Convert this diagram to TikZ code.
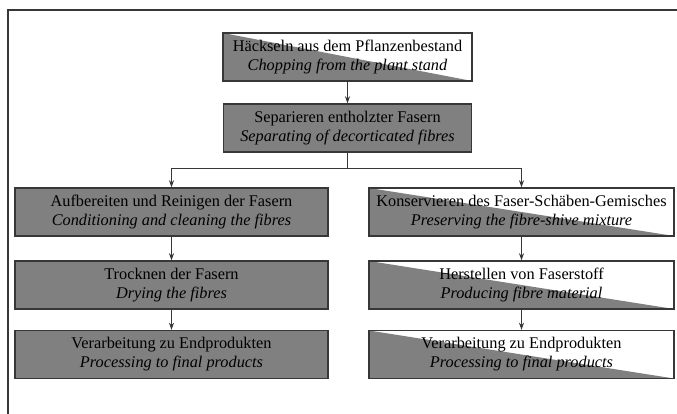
\documentclass[tikz,border=0pt]{standalone}
\usepackage{fontspec}
\setmainfont{Liberation Serif}
\usepackage{tikz}
\usetikzlibrary{arrows.meta,positioning,calc}

\definecolor{boxgray}{RGB}{128,128,128}
\definecolor{linegray}{RGB}{55,55,55}

\begin{document}
\begin{tikzpicture}[
    x=1pt, y=-1pt,
    stepbox/.style = {rectangle, draw=linegray, line width=1.4pt, fill=boxgray, minimum height=48pt, inner sep=0pt, align=center, font=\fontsize{16.3}{19}\selectfont},
    halfbox/.style = {stepbox, fill=white, path picture={\fill[boxgray] (path picture bounding box.north west) -- (path picture bounding box.south east) -- (path picture bounding box.south west) -- cycle;}},
    flow/.style = {draw=linegray, line width=1.1pt, -{Stealth[length=7pt,width=5pt]}}
]
    \useasboundingbox (0,0) rectangle (677,414);
    % Frame
    \draw[linegray, line width=2pt] (8,414) -- (8,10.5) -- (677,10.5);
    % Top
    \node[halfbox, minimum width=249pt] (chop) at (347.5,57) {Häckseln aus dem Pflanzenbestand \\ \textit{Chopping from the plant stand}};
    \node[stepbox, minimum width=248pt] (sep) at (347.5,128) {Separieren entholzter Fasern \\ \textit{Separating of decorticated fibres}};
    % Left branch
    \node[stepbox, minimum width=313pt] (clean) at (171.5,212) {Aufbereiten und Reinigen der Fasern \\ \textit{Conditioning and cleaning the fibres}};
    \node[stepbox, minimum width=313pt] (dry) at (171.5,285) {Trocknen der Fasern \\ \textit{Drying the fibres}};
    \node[stepbox, minimum width=313pt] (endl) at (171.5,354.5) {Verarbeitung zu Endprodukten \\ \textit{Processing to final products}};
    % Right branch
    \node[halfbox, minimum width=305pt] (keep) at (521.5,212) {Konservieren des Faser-Schäben-Gemisches \\ \textit{Preserving the fibre-shive mixture}};
    \node[halfbox, minimum width=305pt] (make) at (521.5,285) {Herstellen von Faserstoff \\ \textit{Producing fibre material}};
    \node[halfbox, minimum width=305pt] (endr) at (521.5,354.5) {Verarbeitung zu Endprodukten \\ \textit{Processing to final products}};
    % Arrows
    \draw[flow] (chop) -- (sep);
    \draw[flow] (sep.south) -- ++(0,16) -| (clean.north);
    \draw[flow] (sep.south) -- ++(0,16) -| (keep.north);
    \draw[flow] (clean) -- (dry);
    \draw[flow] (dry) -- (endl);
    \draw[flow] (keep) -- (make);
    \draw[flow] (make) -- (endr);
\end{tikzpicture}
\end{document}
